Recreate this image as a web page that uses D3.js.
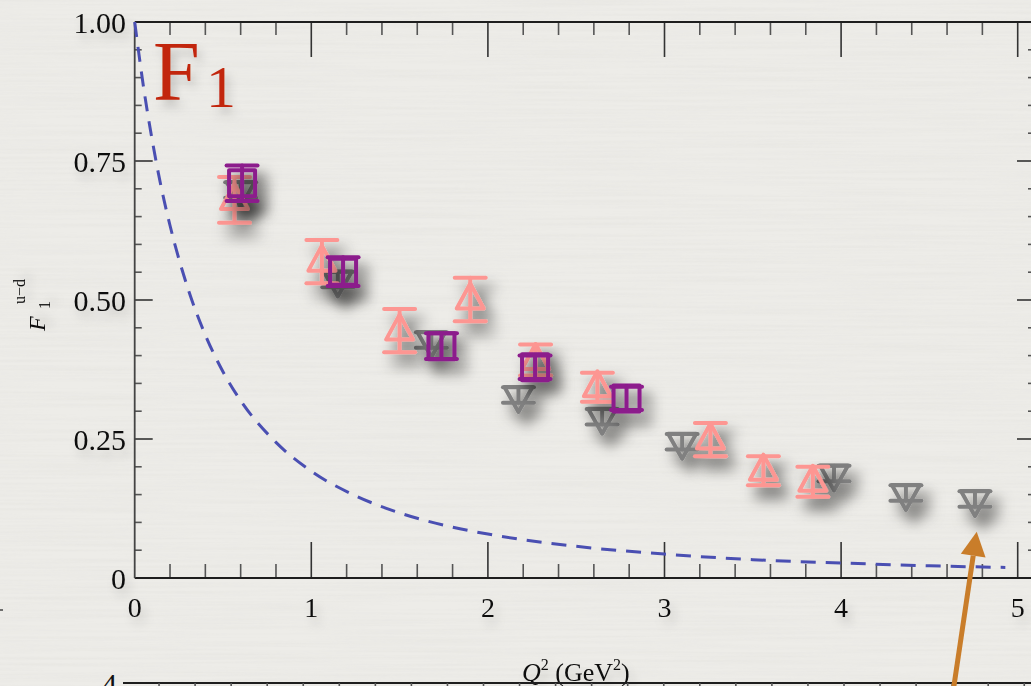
<!DOCTYPE html>
<html>
<head>
<meta charset="utf-8">
<script src="https://cdn.jsdelivr.net/npm/d3@7"></script>
<style>
  html, body { margin: 0; padding: 0; background: #edece8; }
  svg { display: block; }
</style>
</head>
<body>
<svg id="chart" width="1031" height="686"></svg>
<script>
// Isovector Dirac form factor F1^{u-d} versus Q^2

// Q^2 (GeV^2) and F1 values for each data set, with errors
const pinkQ2   = [0.565, 1.06, 1.50, 1.90, 2.27, 2.62, 3.26, 3.56, 3.84];
const pinkF1   = [0.680, 0.569, 0.445, 0.501, 0.392, 0.343, 0.249, 0.193, 0.173];
const pinkErr  = [0.041, 0.039, 0.039, 0.039, 0.028, 0.026, 0.030, 0.026, 0.027];

const purpleQ2  = [0.608, 1.18, 1.737, 2.267, 2.785];
const purpleF1  = [0.710, 0.551, 0.417, 0.379, 0.323];
const purpleErr = [0.032, 0.026, 0.023, 0.021, 0.021];

const grayQ2  = [0.60, 1.15, 1.68, 2.173, 2.647, 3.10, 3.96, 4.367, 4.758];
const grayF1  = [0.698, 0.537, 0.428, 0.329, 0.290, 0.245, 0.188, 0.153, 0.142];
const grayErr = [0.014, 0.014, 0.014, 0.014, 0.014, 0.014, 0.014, 0.014, 0.014];

// dashed reference curve, sampled points
const curveQ2 = [0, 0.05, 0.1, 0.15, 0.2, 0.3, 0.4, 0.5, 0.6, 0.8, 1.0, 1.25, 1.5, 1.75, 2.0, 2.5, 3.0, 3.5, 4.0, 4.5, 4.93];
const curveF1 = [1.0, 0.883, 0.786, 0.703, 0.634, 0.522, 0.437, 0.371, 0.319, 0.244, 0.192, 0.148, 0.117, 0.095, 0.079, 0.057, 0.043, 0.033, 0.027, 0.022, 0.019];

// axis ticks
const xMajor = [0, 1, 2, 3, 4, 5];
const xLabels = ["0", "1", "2", "3", "4", "5"];
const yMajor = [0, 0.25, 0.5, 0.75, 1.0];
const yLabels = ["0", "0.25", "0.50", "0.75", "1.00"];

const svg = d3.select("#chart");
const W = 1031, H = 686;

const x = d3.scaleLinear().domain([0, 5]).range([134.7, 1017.7]);
const y = d3.scaleLinear().domain([0, 1]).range([578, 22]);
const xRight = 1035;  // right frame edge, just past the page

const defs = svg.append("defs");

// paper texture
const paper = defs.append("filter").attr("id", "paper").attr("x", 0).attr("y", 0).attr("width", 1).attr("height", 1);
paper.append("feTurbulence").attr("type", "fractalNoise").attr("baseFrequency", "0.006 0.35").attr("numOctaves", 2).attr("seed", 4).attr("result", "n");
paper.append("feColorMatrix").attr("in", "n").attr("type", "matrix")
  .attr("values", "0 0 0 0 0.55  0 0 0 0 0.55  0 0 0 0 0.52  0.35 0 0 0 -0.12");

// soft drop shadow for markers
const sh = defs.append("filter").attr("id", "shadow").attr("x", "-80%").attr("y", "-80%").attr("width", "280%").attr("height", "280%");
sh.append("feDropShadow").attr("dx", 8).attr("dy", 11).attr("stdDeviation", 7).attr("flood-color", "#000").attr("flood-opacity", 0.62);

// faint shadow for text
const tsh = defs.append("filter").attr("id", "tshadow").attr("x", "-50%").attr("y", "-50%").attr("width", "200%").attr("height", "200%");
tsh.append("feDropShadow").attr("dx", 4).attr("dy", 7).attr("stdDeviation", 5).attr("flood-color", "#000").attr("flood-opacity", 0.18);

svg.append("rect").attr("width", W).attr("height", H).attr("fill", "#edece8");
svg.append("rect").attr("width", W).attr("height", H).attr("fill", "#fff").attr("filter", "url(#paper)").attr("opacity", 0.6);

const serif = "'Liberation Serif', 'Times New Roman', serif";
const axisColor = "#1e1e1e";
const tickColor = "#555";

// ---- frame ticks ----
const ticksG = svg.append("g");
const xMinor = d3.range(0, 5.0001, 0.2).filter(v => Math.abs(v - Math.round(v)) > 1e-6);
const yMinor = d3.range(0, 1.0001, 0.05).filter(v => Math.abs(v * 4 - Math.round(v * 4)) > 1e-6);

function vt(xv, y0, len, major) {
  ticksG.append("line").attr("x1", x(xv)).attr("x2", x(xv)).attr("y1", y0).attr("y2", y0 + len)
    .attr("stroke", major ? "#333" : tickColor).attr("stroke-width", 1.6);
}
function ht(yv, x0, len, major) {
  ticksG.append("line").attr("x1", x0).attr("x2", x0 + len).attr("y1", y(yv)).attr("y2", y(yv))
    .attr("stroke", major ? "#333" : tickColor).attr("stroke-width", 1.6);
}
xMajor.forEach(v => { if (v > 0) { vt(v, y(0), -36, true); vt(v, y(1), 35, true); } });
xMinor.forEach(v => { vt(v, y(0), -14, false); vt(v, y(1), 13, false); });
yMajor.forEach(v => { if (v > 0 && v < 1) { ht(v, x(0), 18, true); ht(v, xRight, -18, true); } });
yMinor.forEach(v => { ht(v, x(0), 7, false); ht(v, xRight, -7, false); });

// ---- frame lines ----
svg.append("line").attr("x1", x(0)).attr("x2", xRight).attr("y1", y(0)).attr("y2", y(0)).attr("stroke", axisColor).attr("stroke-width", 1.8);
svg.append("line").attr("x1", x(0)).attr("x2", xRight).attr("y1", y(1)).attr("y2", y(1)).attr("stroke", axisColor).attr("stroke-width", 1.8);
svg.append("line").attr("x1", x(0)).attr("x2", x(0)).attr("y1", y(0)).attr("y2", y(1)).attr("stroke", "#444").attr("stroke-width", 1.8);

// ---- tick labels ----
const labG = svg.append("g").attr("filter", "url(#tshadow)")
  .style("font-family", serif).attr("fill", "#111");
labG.selectAll("text.xl").data(xMajor).join("text")
  .attr("x", d => x(d)).attr("y", 617).attr("text-anchor", "middle")
  .style("font-size", "28px").text((d, i) => xLabels[i]);
labG.selectAll("text.yl").data(yMajor).join("text")
  .attr("x", 126).attr("y", d => y(d) + 10.5).attr("text-anchor", "end")
  .style("font-size", "30px").text((d, i) => yLabels[i]);

// axis titles
const yt = svg.append("g").attr("transform", "translate(40,300) rotate(-90)")
  .style("font-family", serif).attr("fill", "#111").attr("filter", "url(#tshadow)");
yt.append("text").attr("x", -31).attr("y", 5).style("font-size", "24px").style("font-style", "italic").text("F");
yt.append("text").attr("x", -9).attr("y", 10).style("font-size", "16px").text("1");
yt.append("text").attr("x", -4).attr("y", -15).style("font-size", "16px").text("u\u2212d");

const xt = svg.append("text").attr("x", 522).attr("y", 681)
  .style("font-family", serif).style("font-size", "26px").attr("fill", "#111").attr("filter", "url(#tshadow)");
xt.append("tspan").style("font-style", "italic").text("Q");
xt.append("tspan").attr("dy", -11).style("font-size", "16px").text("2");
xt.append("tspan").attr("dy", 11).text(" (GeV");
xt.append("tspan").attr("dy", -11).style("font-size", "16px").text("2");
xt.append("tspan").attr("dy", 11).text(")");

// panel tag
const tag = svg.append("text").attr("x", 153).attr("y", 100)
  .style("font-family", serif).attr("fill", "#c2260c").attr("filter", "url(#tshadow)");
tag.append("tspan").style("font-size", "84px").text("F");
tag.append("tspan").attr("x", 206).attr("y", 107).style("font-size", "60px").text("1");

// ---- dashed curve ----
const curvePts = curveQ2.map((q, i) => [q, curveF1[i]]);
svg.append("path").datum(curvePts)
  .attr("d", d3.line().x(d => x(d[0])).y(d => y(d[1])).curve(d3.curveMonotoneX))
  .attr("fill", "none").attr("stroke", "#4a4fb2").attr("stroke-width", 3)
  .attr("stroke-dasharray", "15 10");

// ---- markers ----
const capHalf = 15.5, lw = 4;

function errorBar(g, color, err, v) {
  const c = y(v), top = y(v + err) - c, bot = y(v - err) - c;
  g.append("line").attr("x1", 0).attr("x2", 0).attr("y1", top).attr("y2", bot)
    .attr("stroke", color).attr("stroke-width", lw).attr("stroke-linecap", "round");
  [top, bot].forEach(yy => g.append("line").attr("x1", -capHalf).attr("x2", capHalf)
    .attr("y1", yy).attr("y2", yy)
    .attr("stroke", color).attr("stroke-width", lw).attr("stroke-linecap", "round"));
}

function drawSet(qs, vs, es, color, shape) {
  const layer = svg.append("g");
  qs.forEach((q, i) => {
    const g = layer.append("g").attr("transform", `translate(${x(q)},${y(vs[i])})`).attr("filter", "url(#shadow)");
    let d;
    if (shape === "up") d = "M0,-16 L13.5,9 L-13.5,9 Z";
    else if (shape === "down") d = "M-14,-8 L14,-8 L0,17 Z";
    else d = "M-13,-13 L13,-13 L13,13 L-13,13 Z";
    g.append("path").attr("d", d).attr("fill", "none").attr("stroke", color)
      .attr("stroke-width", lw).attr("stroke-linejoin", "round");
    errorBar(g, color, es[i], vs[i]);
  });
}

drawSet(grayQ2, grayF1, grayErr, "#808080", "down");
drawSet(pinkQ2, pinkF1, pinkErr, "#fd9692", "up");
drawSet(purpleQ2, purpleF1, purpleErr, "#8c1b8c", "square");

// ---- edge of the panel below ----
const xLow = d3.scaleLinear().domain([0, 5]).range([123, 123 + 5 * 180.25]);
svg.append("line").attr("x1", 123).attr("x2", W).attr("y1", 683).attr("y2", 683).attr("stroke", axisColor).attr("stroke-width", 1.8);
svg.append("g").selectAll("line").data(d3.range(0.2, 5.01, 0.2)).join("line")
  .attr("x1", d => xLow(d)).attr("x2", d => xLow(d)).attr("y1", 683).attr("y2", 690)
  .attr("stroke", tickColor).attr("stroke-width", 1.6);
svg.append("text").attr("x", 117).attr("y", 694).attr("text-anchor", "end")
  .style("font-family", serif).style("font-size", "30px").attr("fill", "#111").text("4");
svg.append("line").attr("x1", 0).attr("x2", 3).attr("y1", 610).attr("y2", 610).attr("stroke", "#444").attr("stroke-width", 1.5);

// ---- arrow pointing at the highest-Q2 point ----
const tip = [x(4.768), y(0.083)];
const tail = [x(4.627), y(-0.22)];
const ang = Math.atan2(tip[1] - tail[1], tip[0] - tail[0]);
const headLen = 24, headHalf = 12.5;
const base = [tip[0] - headLen * Math.cos(ang), tip[1] - headLen * Math.sin(ang)];
svg.append("line").attr("x1", tail[0]).attr("y1", tail[1]).attr("x2", base[0]).attr("y2", base[1])
  .attr("stroke", "#c97d2a").attr("stroke-width", 5);
svg.append("path").attr("fill", "#c97d2a")
  .attr("d", `M${tip[0]},${tip[1]} L${base[0] + headHalf * Math.sin(ang)},${base[1] - headHalf * Math.cos(ang)} L${base[0] - headHalf * Math.sin(ang)},${base[1] + headHalf * Math.cos(ang)} Z`);
</script>
</body>
</html>
